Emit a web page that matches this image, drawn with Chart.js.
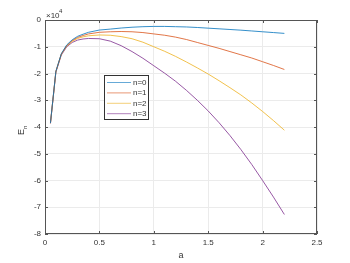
<!DOCTYPE html>
<html>
<head>
<meta charset="utf-8">
<script src="https://cdn.jsdelivr.net/npm/chart.js@4.4.0/dist/chart.umd.min.js"></script>
<style>
  html, body { margin: 0; padding: 0; background: #fff; }
  #wrap { width: 350px; height: 263px; }
</style>
</head>
<body>
<div id="wrap"><canvas id="chart"></canvas></div>
<script>
// values in units of 1e4
const aValues = [0.05, 0.1, 0.15, 0.2, 0.25, 0.3, 0.35, 0.4, 0.5, 0.6, 0.7, 0.8, 0.9, 1.0,
  1.1, 1.2, 1.3, 1.4, 1.5, 1.6, 1.7, 1.8, 1.9, 2.0, 2.1, 2.2];
const e0 = [-3.85, -1.92, -1.26, -0.93, -0.74, -0.61, -0.53, -0.46, -0.375, -0.34, -0.30, -0.27, -0.25, -0.24,
  -0.24, -0.25, -0.26, -0.28, -0.305, -0.33, -0.355, -0.38, -0.41, -0.44, -0.47, -0.50];
const e1 = [-3.85, -1.92, -1.27, -0.95, -0.77, -0.65, -0.58, -0.52, -0.46, -0.44, -0.43, -0.44, -0.47, -0.52,
  -0.57, -0.64, -0.73, -0.84, -0.95, -1.06, -1.18, -1.30, -1.42, -1.56, -1.70, -1.85];
const e2 = [-3.86, -1.93, -1.28, -0.97, -0.80, -0.69, -0.63, -0.59, -0.56, -0.57, -0.62, -0.70, -0.83, -1.00,
  -1.17, -1.36, -1.57, -1.79, -2.02, -2.27, -2.53, -2.80, -3.10, -3.42, -3.76, -4.12];
const e3 = [-3.87, -1.95, -1.31, -1.00, -0.84, -0.75, -0.71, -0.69, -0.70, -0.79, -0.96, -1.18, -1.43, -1.71,
  -1.99, -2.29, -2.63, -3.00, -3.40, -3.84, -4.32, -4.84, -5.40, -6.00, -6.62, -7.27];
const seriesNames = ['n=0', 'n=1', 'n=2', 'n=3'];
const seriesColors = ['#0072BD', '#D95319', '#EDB120', '#7E2F8E'];
const xTicks = [0, 0.5, 1, 1.5, 2, 2.5];
const yTicks = [0, -1, -2, -3, -4, -5, -6, -7, -8];

const FONT = 'Liberation Sans, Arial, sans-serif';
const TXT = '#333333';

const toPoints = ys => aValues.map((a, i) => ({ x: a, y: ys[i] }));

// box, inward ticks, legend, axis labels
const matlabLook = {
  id: 'matlabLook',
  afterDraw(chart) {
    const { ctx, chartArea: ca } = chart;
    const xs = chart.scales.x, ys = chart.scales.y;
    ctx.save();
    ctx.strokeStyle = '#555555';
    ctx.lineWidth = 1;
    ctx.strokeRect(ca.left + 0.5, ca.top + 0.5, ca.right - ca.left - 1, ca.bottom - ca.top - 1);
    ctx.beginPath();
    xTicks.forEach(t => {
      const px = Math.round(xs.getPixelForValue(t)) + 0.5;
      ctx.moveTo(px, ca.bottom); ctx.lineTo(px, ca.bottom - 3);
      ctx.moveTo(px, ca.top); ctx.lineTo(px, ca.top + 3);
    });
    yTicks.forEach(t => {
      const py = Math.round(ys.getPixelForValue(t)) + 0.5;
      ctx.moveTo(ca.left, py); ctx.lineTo(ca.left + 3, py);
      ctx.moveTo(ca.right, py); ctx.lineTo(ca.right - 3, py);
    });
    ctx.stroke();

    // exponent
    ctx.fillStyle = TXT;
    ctx.textBaseline = 'alphabetic';
    ctx.textAlign = 'left';
    ctx.font = '8px ' + FONT;
    ctx.fillText('\u00d710', ca.left + 1, 18);
    ctx.font = '6px ' + FONT;
    ctx.fillText('4', ca.left + 14, 13);

    // x title
    ctx.font = '9px ' + FONT;
    ctx.textAlign = 'center';
    ctx.fillText('a', (ca.left + ca.right) / 2, 258);

    // y title E_n
    ctx.save();
    ctx.translate(24, (ca.top + ca.bottom) / 2 + 2);
    ctx.rotate(-Math.PI / 2);
    ctx.textAlign = 'left';
    ctx.font = '9px ' + FONT;
    ctx.fillText('E', -6, 0);
    ctx.font = '6px ' + FONT;
    ctx.fillText('n', 0, 3);
    ctx.restore();

    // legend
    const lx = 104, ly = 75, lw = 44, lh = 44;
    ctx.fillStyle = '#fff';
    ctx.fillRect(lx, ly, lw, lh);
    ctx.strokeStyle = '#333333';
    ctx.lineWidth = 1;
    ctx.strokeRect(lx + 0.5, ly + 0.5, lw, lh);
    ctx.font = '8px ' + FONT;
    ctx.textAlign = 'left';
    ctx.textBaseline = 'middle';
    seriesNames.forEach((name, i) => {
      const y = ly + 7 + i * 10.4;
      ctx.strokeStyle = seriesColors[i];
      ctx.globalAlpha = 0.6;
      ctx.beginPath();
      ctx.moveTo(lx + 3, y + 0.5); ctx.lineTo(lx + 27, y + 0.5);
      ctx.stroke();
      ctx.globalAlpha = 1;
      ctx.fillStyle = TXT;
      ctx.fillText(name, lx + 29, y + 0.5);
    });
    ctx.restore();
  }
};

new Chart(document.getElementById('chart'), {
  type: 'line',
  data: {
    datasets: [e0, e1, e2, e3].map((ys, i) => ({
      label: seriesNames[i],
      data: toPoints(ys),
      borderColor: seriesColors[i],
      borderWidth: 0.8,
      pointRadius: 0,
      fill: false,
      tension: 0
    }))
  },
  options: {
    responsive: true,
    maintainAspectRatio: false,
    animation: false,
    layout: { padding: { left: 0, top: 20, right: 33, bottom: 0 } },
    plugins: { legend: { display: false }, tooltip: { enabled: false } },
    scales: {
      x: {
        type: 'linear', min: 0, max: 2.5,
        afterFit(s) { s.height = 29; },
        afterBuildTicks(s) { s.ticks = xTicks.map(v => ({ value: v })); },
        grid: { color: '#ebebeb', drawTicks: false },
        border: { display: false },
        ticks: { color: TXT, font: { size: 8, family: FONT }, padding: 4, maxRotation: 0,
          callback: v => String(v) }
      },
      y: {
        type: 'linear', min: -8, max: 0,
        afterFit(s) { s.width = 45; },
        afterBuildTicks(s) { s.ticks = yTicks.map(v => ({ value: v })); },
        grid: { color: '#ebebeb', drawTicks: false },
        border: { display: false },
        ticks: { color: TXT, font: { size: 8, family: FONT }, padding: 4,
          callback: v => String(v) }
      }
    }
  },
  plugins: [matlabLook]
});
</script>
</body>
</html>
